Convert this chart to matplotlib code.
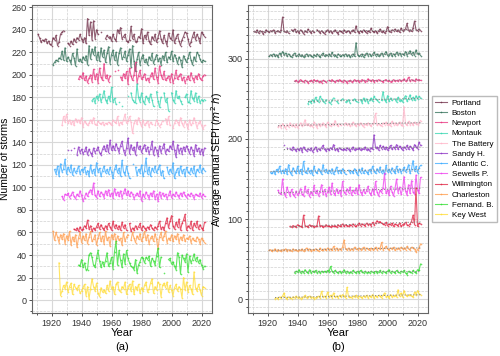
import numpy as np
import matplotlib
matplotlib.use('Agg')
import matplotlib.pyplot as plt
from matplotlib.ticker import MultipleLocator

na = np.nan
END_YEAR = 2022

stations = ['Portland', 'Boston', 'Newport', 'Montauk', 'The Battery', 'Sandy H.',
            'Atlantic C.', 'Sewells P.', 'Willmington', 'Charleston', 'Fernand. B.', 'Key West']
colors = ['#6e2b45', '#2f6e55', '#e8307c', '#33d6b0', '#ffb3c8', '#8b2fc4',
          '#36a9ff', '#ee3cee', '#e0203f', '#ff9a48', '#2ede2e', '#ffdc30']

# (a) number of storms per year (stacked), every series ends in 2022
portland_a = [236, 233, 229, 231, 230, 232, 228, 230, 227, 226,
              233, 231, 235, 226, 229, 236, 238, 239, na, na,
              228, 226, 230, 227, 232, 229, 233, 231, 236, 232,
              229, 233, 228, 250, 235, 247, 231, 248, 232, 240,
              236, na, 238, na, na, 232, 235, 233, 234, 230,
              236, 232, 230, 240, 237, 242, 232, 234, 236, 230,
              229, 231, 243, 232, 236, 229, 230, 234, 233, 241,
              228, 235, 232, 238, 230, 227, 234, 231, 236, 229,
              233, 239, 232, 228, 235, 230, 226, 237, 233, 231,
              240, 228, 233, 236, 230, 226, 231, 234, 238, 237,
              232, 226, 229, 234, 238, 231, 236, 233, 228, 238,
              236, 234]
boston_a = [209, 211, 213, 212, 215, 214, 221, 213, 224, 212,
            216, 213, 210, 219, 215, 208, 223, 212, 214, 211,
            216, 213, 217, 209, 226, 214, 223, 218, 225, 213,
            220, 212, 224, 216, 222, 211, 219, 225, 210, 218,
            222, 213, 220, 209, 219, 224, 214, 216, 221, 212,
            218, 223, 207, 226, 212, 203, 214, 220, 209, 215,
            218, 211, 214, 209, 216, 213, 219, 210, 214, 218,
            212, 215, 209, 217, 213, 220, 211, 216, 214, 221,
            212, 218, 215, 210, 216, 213, 207, 217, 214, 211,
            215, 220, 213, 209, 216, 212, 220, 218, 214, 211,
            213, 212]
newport_a = [196, 199, 197, 202, 195, 199, 193, 197, 200, 194,
             205, 196, 201, 193, 206, 198, 195, 210, 197, 200,
             194, 199, na, na, 203, na, 204, na, 198, 195,
             201, 197, 203, 192, 206, 199, 195, 200, 211, 193,
             199, 204, 196, 198, 201, 195, 197, 194, 199, 202,
             196, 206, 198, 193, 208, 200, 196, 203, 195, 197,
             199, 194, 201, 193, 197, 204, 196, 199, 201, 195,
             198, 193, 196, 199, 195, 202, 197, 194, 199, 196,
             201, 197, 195, 199, 200]
montauk_a = [177, 179, 175, 181, 178, 183, 176, 180, 186, 178,
             175, 181, 177, 189, 176, 179, 174, na, 176, na,
             172, na, na, na, 181, na, 184, 178, 176, 175,
             192, 180, 176, 184, 177, 174, 181, 179, 176, 183,
             178, 172, na, 185, 177, 171, 180, na, 184, 176,
             179, 168, na, 184, 178, 175, 186, 179, 181, 177,
             174, na, 180, 183, 176, 175, 186, 179, 177, 184,
             176, 181, 175, 178, 177, 178]
battery_a = [155, 163, 158, 165, 157, 160, 156, 159, 155, 161,
             158, 160, 157, 162, 154, 159, 157, 155, 157, 160,
             157, 162, 156, 155, 159, 157, 156, 158, 155, 157,
             156, 158, 157, 155, 160, 158, 157, 163, 155, 158,
             156, 160, 165, 157, 159, 163, 158, 148, 157, 160,
             156, 162, 158, 154, 160, 155, 157, 159, 154, 158,
             156, na, 155, 160, 157, 154, 156, 159, na, 161,
             156, 163, 155, na, 153, 157, 160, 158, 155, 162,
             157, 154, 159, 156, 152, 160, 155, 157, 162, 158,
             153, 157, 159, 155, 152, 155]
sandy_a = [133, na, 133, na, 135, na, 129, 136, 131, 134,
           130, 132, 136, 129, 134, 131, 128, 135, 131, 133,
           136, 131, 129, 134, 137, 132, 138, 131, 142, 133,
           137, 133, 139, 135, 131, 137, 141, 133, 129, 135,
           144, 130, 138, 133, 136, 129, 140, 134, 137, 131,
           135, 138, 132, 136, 130, 134, 141, 129, 136, 133,
           128, 137, 131, 135, 139, 130, 134, 132, 137, 134,
           141, 133, 127, 138, 131, 135, 130, 136, 132, 137,
           134, 130, 136, 133, 128, 138, 132, 135, 130, 134,
           129, 135]
atlantic_a = [116, 112, 119, 110, 121, 114, 116, 125, 112, 118,
              114, 120, 111, 117, 113, 115, 119, 112, 116, 114,
              118, 112, 115, 110, 120, 113, 116, 111, 122, 114,
              117, 110, 115, 119, 113, 116, 112, 118, 114, 108,
              116, 120, 113, 117, 110, 124, 114, 111, 119, 113,
              108, na, 121, na, 118, 111, 116, 113, 120, 110,
              115, 126, 112, 118, 110, 117, 114, 119, 113, 116,
              120, 111, 115, 108, na, 118, 112, 116, 113, 122,
              108, 114, 117, 111, 119, 113, 116, 110, 118, 114,
              112, 117, 113, 119, 110, 116, 114, 120, 113, 117,
              115]
sewells_a = [92, 89, 94, 93, 95, 91, 93, 96, 92, 90,
             94, 92, 97, 93, 88, 91, 95, 92, 96, 98,
             94, 104, 93, 91, 97, 92, 96, 94, 91, 97,
             93, 98, 92, 95, 91, 99, 93, 96, 92, 97,
             91, 95, 99, 93, 97, 92, 96, 94, 90, 93,
             95, 92, 97, 88, 94, 91, 96, 93, 90, 95,
             92, 97, 90, 94, 88, 96, 91, 95, 92, 94,
             90, 93, 97, 91, 94, 92, 96, 93, 91, 95,
             92, 96, 93, 91, 94, 92, 95, 93, 90, 94,
             93, 92, 95, 91, 94, 92]
willmington_a = [63, 62, 64, 61, 65, 62, 63, 66, 64, 71,
                 63, 66, 61, 64, 62, 65, 68, 63, 67, 64,
                 62, 66, 63, 68, 65, 62, 70, 64, 67, 63,
                 66, 62, 69, 64, 67, 62, na, 68, 61, 64,
                 62, 66, 63, 65, 68, 62, 66, 64, 62, 65,
                 63, 67, 64, 62, 65, 63, 66, 70, 63, 65,
                 62, 68, 73, 64, 70, 75, 66, 63, 69, 65,
                 72, 62, 68, 71, 76, 62, 66, 64, 70, 62,
                 68, 65, 70, 63, 67, 64, 62, 69]
charleston_a = [61, 53, 60, 56, 51, 58, 54, 59, 50, 57,
                53, 61, 49, 56, 52, 58, 47, 55, 60, 51,
                57, 53, 59, 50, 56, 61, 52, 54, 58, 49,
                55, 60, 52, 57, 50, 61, 53, 56, 48, 58,
                54, 59, 51, 57, 53, 55, 49, 60, 52, 56,
                58, na, 53, 60, 55, 51, 57, 54, 59, 52,
                56, 61, 53, 58, 50, 55, 57, 52, 59, 54,
                45, 56, 60, 53, 57, 61, 51, 55, 53, 58,
                52, 57, 54, 59, 51, 56, 53, 58, 52, 55,
                54, 57, 51, 55, 53, 52, 56, 54, 50, 55,
                53, 51]
fernand_a = [31, 30, 36, 29, 33, 27, 27, 40, 42, 38,
             31, 29, 37, 44, 35, 29, 34, 30, 35, 42,
             30, 33, 38, 28, 43, 52, 31, 44, 36, 29,
             41, 32, 44, 37, 33, 30, 29, 27, 36, 24,
             31, 34, 38, 37, 33, 38, 36, 39, 30, 37,
             35, 31, 39, 46, 29, 38, na, 24, na, na,
             36, 37, 32, 34, 30, 27, 42, 38, 23, 40,
             37, 34, 41, 25, 39, 33, 36, 41, 35, 38,
             33, 36, 31, 28, 30]
keywest_a = [33, 4, 8, 13, 10, 16, 7, 12, 15, 5,
             14, 11, 9, 13, 6, 8, 11, 14, 4, 12,
             1, 10, 19, 12, 8, 15, 6, 3, 11, 7,
             9, 6, 13, 8, 17, 10, 12, 5, 14, 16,
             9, 7, 12, 10, 16, 5, 11, 14, 8, 17,
             5, 12, 9, 14, 6, 11, 8, 13, 16, 7,
             10, 15, 19, 6, 12, 9, 16, 14, 3, 13,
             15, 11, 16, 7, 13, 9, 4, 11, 14, 8,
             12, 10, 2, 20, 9, 16, 7, 13, 10, 5,
             25, 11, 8, 14, 9, 4, 12, 11]

# (b) average annual SEPI (stacked)
portland_b = [334, 333, 336, 332, 335, 334, 331, 333, 336, 334,
              333, 335, 334, 336, 332, 334, 335, 333, 336, 352,
              334, 333, 335, 332, na, 336, 334, 337, 333, 335,
              332, 336, 334, 331, 335, 333, 337, 334, 332, 335,
              333, na, 336, 334, 332, 335, 333, 331, 334, 336,
              333, 335, 332, 334, 336, 333, 331, 335, 334, 332,
              336, 333, 334, 335, 332, 334, 336, 333, 341, 334,
              332, 335, 333, 336, 334, 332, 335, 333, 338, 334,
              333, 335, 332, 334, 337, 333, 335, 332, 334, 340,
              334, 333, 336, 335, 337, 334, 336, 333, 338, 335,
              336, 337, 344, 335, 336, 334, 338, 347, 336, 335,
              337, 335]
boston_b = [303, 305, 304, 306, 303, 305, 302, 307, 304, 309,
            305, 307, 303, 306, 304, 302, 305, 307, 303, 304,
            306, 303, 305, 302, 304, 306, 303, 305, 304, 302,
            305, 303, 306, 304, 302, 305, 307, 303, 305, 304,
            306, 303, 308, 304, 305, 302, 306, 304, 303, 305,
            304, 306, 303, 305, 302, 304, 306, 303, 320, 305,
            303, 304, 306, 302, 305, 307, 304, 306, 303, 305,
            308, 304, 306, 303, 305, 307, 304, 306, 309, 304,
            305, 307, 303, 306, 304, 308, 305, 307, 304, 306,
            305, 309, 304, 307, 310, 305, 308, 304, 311, 306,
            307, 304]
newport_b = [272, 273, 271, 272, 274, 272, 271, 273, 272, 270,
             272, 273, 271, 274, 272, 273, 271, 272, 270, 273,
             272, 271, na, 273, 272, 274, 272, 271, 273, 272,
             274, 272, 271, 273, 272, 270, 272, 273, 271, 272,
             274, 272, 273, 271, 272, 274, 273, 271, 272, 275,
             273, 272, 274, 271, 273, 272, 274, 273, 272, 271,
             273, 274, 272, 273, 271, 272, 274, 272, 273, 272,
             274, 272, 273, 275, 272, 273, 277, 272, 274, 273,
             272, 275, 273, 274, 273]
montauk_b = [244, 247, 245, 249, 246, 252, 248, 246, 253, 250,
             247, 245, 249, na, 246, 244, 248, 251, na, 247,
             245, na, 248, 250, na, 246, 247, 249, 245, na,
             248, 250, 247, 246, na, 249, 245, 251, 247, 250,
             245, 248, 251, 247, 253, 250, 249, 246, na, 248,
             259, 249, 246, 254, 247, 251, 248, na, 250, 246,
             252, 247, 249, 246, 251, 254, 247, 250, 255, 249,
             252, 248, 254, 250, 253, 251]
battery_b = [215, 217, 214, 219, 216, 213, 218, 215, 220, 216,
             218, 215, 219, 214, 217, 220, 216, 218, 224, 217,
             219, 216, 218, 215, 221, 217, 214, 219, 216, 218,
             220, 217, 215, 221, 218, 216, 219, 217, 223, 218,
             216, 219, 217, na, 218, 220, 217, 219, 216, 218,
             221, 218, 216, 219, 217, 220, 218, 215, 219, 217,
             220, 218, 216, 219, 221, 232, 217, 219, 218, 216,
             220, 218, 221, 217, 219, 216, 222, 218, 220, 217,
             219, 221, 218, 216, 240, 219, 217, 222, 218, 220,
             217, 221, 219, 218, 220, 223]
sandy_b = [192, na, 189, na, 188, 186, 190, 187, 185, 188,
           186, 189, 184, 190, 187, 185, 188, 186, 189, 184,
           187, 190, 185, 188, 186, 189, 192, 187, 185, 188,
           186, 189, 187, 193, 186, 188, 185, 189, 187, 186,
           188, 186, 189, 187, 185, 188, 190, 186, 188, 187,
           189, 186, 188, 187, 190, 186, 188, 185, 189, 187,
           205, 189, 190, 186, 192, 188, 191, 187, 190, 186,
           189, 192, 187, 190, 188, 193, 187, 191, 189, 186,
           190, 188, 192, 187, 191, 189, 186, 193, 190, 188,
           196, 192]
atlantic_b = [158, 157, 160, 156, 162, 159, 166, 158, 161, 157,
              163, 156, 168, 159, 155, 164, 160, 157, 166, 158,
              162, 156, 172, 159, 157, 164, 158, 161, 155, 166,
              159, 157, 163, 160, 156, 168, 159, 162, 157, 161,
              158, 163, 156, 160, 165, 158, 161, 157, 163, 159,
              156, na, 161, 158, 160, 157, 163, 159, 155, 162,
              158, 164, 157, 161, 159, 156, 162, 158, 166, 160,
              157, 163, 159, 165, 158, 161, 156, 167, 159, 162,
              158, 164, 160, 157, 166, 159, 163, 158, 161, 165,
              159, 162, 168, 157, 163, 173, 160, 166, 158, 164,
              167]
sewells_b = [136, 132, 131, 150, 133, 128, 140, 134, 129, 137,
             131, 128, 135, 130, 133, 138, 131, 129, 141, 133,
             137, 128, 134, 130, 142, 132, 136, 129, 134, 143,
             131, 137, 129, 134, 140, 131, 145, 133, 130, 138,
             132, 136, 129, 147, 134, 131, 138, 133, 140, 130,
             136, 132, 139, 131, 143, 134, 130, 137, 132, 135,
             141, 133, 130, 138, 131, 147, 134, 129, 136, 133,
             139, 157, 132, 136, 130, 141, 134, 129, 138, 150,
             133, 140, 131, 137, 153, 135, 130, 143, 132, 148,
             134, 131, 155, 136, 132, 152]
willmington_b = [91, 90, 92, 91, 90, 93, 92, 91, 90, 105,
                 92, 91, 90, 93, 91, 92, 90, 91, 92, 104,
                 91, 92, 90, 91, 93, 91, 92, 90, 92, 91,
                 92, 90, 93, 91, 92, 94, 91, 93, 92, 91,
                 93, 92, 94, 92, 91, 93, 95, 92, 94, 93,
                 92, 95, 93, 94, 92, 96, 93, 95, 98, 96,
                 97, 95, 94, 93, 96, 92, 94, 93, 95, 91,
                 94, 93, 92, 95, 91, 93, 94, 96, 93, 92,
                 94, 97, 105, 93, 139, 91, 95, 94]
charleston_b = [61, 62, 60, 61, 63, 60, 62, 61, 60, 62,
                61, 63, 60, 62, 61, 60, 63, 61, 62, 60,
                62, 61, 63, 60, 62, 64, 61, 63, 60, 62,
                61, 63, 62, 60, 64, 61, 62, 63, 61, 64,
                62, 63, 61, 66, 62, 64, 61, 63, 62, 65,
                74, 63, 62, 64, 61, 63, 62, 65, 63, 62,
                64, 62, 63, 65, 62, 64, 63, 61, 64, 62,
                63, 65, 62, 64, 63, 71, 62, 64, 66, 63,
                62, 64, 63, 65, 61, 63, 64, 62, 65, 63,
                64, 62, 66, 63, 62, 65, 64, 63, 59, 62,
                64, 69]
fernand_b = [33, 35, 34, 37, 33, 35, 33, 37, 34, 33,
             37, 33, 35, 34, 36, 33, 35, 33, 35, 34,
             35, 34, 36, 34, 41, 35, 33, 36, 34, 33,
             35, 33, 34, 37, 33, 35, 33, 34, 33, 36,
             34, 33, 35, 33, 36, 34, 33, 35, 33, 34,
             33, 35, 34, 33, 35, 33, 34, 36, 33, 35,
             34, 33, 35, 37, 33, 35, 34, 33, 36, 34,
             33, 35, 34, 36, 33, 31, 35, 34, 33, 36,
             34, 33, 37, 36, 44]
keywest_b = [1, 2, 1, 3, 2, 4, 8, 2, 1, 3,
             2, 1, 3, 2, 4, 2, 3, 1, 2, 3,
             5, 2, 3, 4, 2, 3, 1, 2, 3, 4,
             2, 10, 3, 4, 2, 9, 3, 5, 2, 8,
             3, 4, 2, 5, 3, 6, 4, 2, 15, 3,
             3, 2, 4, 3, 5, 2, 4, 3, 2, 4,
             3, 5, 2, 4, 3, 6, 2, 4, 3, 5,
             4, 2, 5, 8, 3, 4, 2, 6, 3, 4,
             5, 3, 12, 4, 8, 3, 11, 6, 4, 5,
             6, 4, 3, 9, 5, 11, 7, 6]

storms = [portland_a, boston_a, newport_a, montauk_a, battery_a, sandy_a,
          atlantic_a, sewells_a, willmington_a, charleston_a, fernand_a, keywest_a]
sepi = [portland_b, boston_b, newport_b, montauk_b, battery_b, sandy_b,
        atlantic_b, sewells_b, willmington_b, charleston_b, fernand_b, keywest_b]


def years_for(vals):
    return np.arange(END_YEAR - len(vals) + 1, END_YEAR + 1)


plt.rcParams['font.family'] = ['Liberation Sans', 'DejaVu Sans']

fig = plt.figure(figsize=(5.0, 3.56), dpi=100)
ax1 = fig.add_axes([32 / 500, 1 - 313 / 356, 180 / 500, 308 / 356])
ax2 = fig.add_axes([248 / 500, 1 - 313 / 356, 180 / 500, 308 / 356])

for ax in (ax1, ax2):
    ax.set_axisbelow(True)
    ax.xaxis.set_major_locator(MultipleLocator(20))
    ax.xaxis.set_minor_locator(MultipleLocator(10))
    ax.grid(which='major', color='#d8d8d8', lw=0.8, ls='-')
    ax.grid(which='minor', color='#d0d0d0', lw=0.5, ls='--')
    ax.tick_params(which='both', labelsize=6.5, length=2, width=0.6, colors='#333333', pad=2)
    ax.tick_params(which='minor', length=1.2)
    for sp in ax.spines.values():
        sp.set_color('#666666')
        sp.set_linewidth(0.8)
    ax.set_xlim(1907, 2027)
    ax.set_xlabel('Year', fontsize=8, labelpad=0)

# (a) storms
for vals, c in zip(storms, colors):
    v = np.array(vals, dtype=float)
    ax1.plot(years_for(v), v, color=c, lw=0.8, alpha=0.75, marker='o', ms=1.2,
             markeredgewidth=0)
ax1.set_ylim(-11.5, 262)
ax1.yaxis.set_major_locator(MultipleLocator(20))
ax1.yaxis.set_minor_locator(MultipleLocator(10))
ax1.set_ylabel('Number of storms', fontsize=7.5, labelpad=1)

# (b) SEPI with linear trend
for name, vals, c in zip(stations, sepi, colors):
    v = np.array(vals, dtype=float)
    yr = years_for(v)
    ax2.plot(yr, v, color=c, lw=0.8, alpha=0.75, marker='o', ms=1.2,
             markeredgewidth=0, label=name)
    ok = ~np.isnan(v)
    p = np.polyfit(yr[ok], v[ok], 1)
    ax2.plot(yr, np.polyval(p, yr), color='#888888', lw=0.8, ls=':')
ax2.set_ylim(-17, 367)
ax2.yaxis.set_major_locator(MultipleLocator(100))
ax2.yaxis.set_minor_locator(MultipleLocator(10))
ax2.set_ylabel('Average annual SEPI ($m^2$ $h$)', fontsize=7.5, labelpad=2)

ax2.legend(loc='upper left', bbox_to_anchor=(1.02, 0.705), fontsize=5.8,
           labelspacing=0.32, handlelength=1.5, handletextpad=0.6,
           borderpad=0.4, borderaxespad=0, fancybox=False, edgecolor='#bbbbbb',
           framealpha=1)

fig.text(122 / 500, 1 - 347 / 356, '(a)', ha='center', va='center', fontsize=8)
fig.text(338 / 500, 1 - 347 / 356, '(b)', ha='center', va='center', fontsize=8)

fig.savefig('out.png', dpi=100)
